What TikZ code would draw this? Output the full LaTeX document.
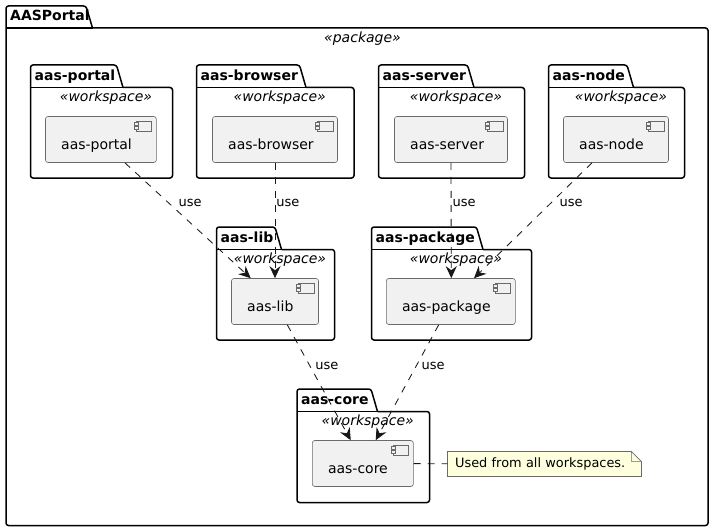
\documentclass[tikz,border=0pt]{standalone}
\usepackage{fontspec}
\setmainfont{DejaVu Sans}
\usetikzlibrary{arrows.meta}

\definecolor{compfill}{HTML}{F1F1F1}
\definecolor{notefill}{HTML}{FEFFDD}
\definecolor{inkline}{HTML}{181818}
\definecolor{thinline}{HTML}{6A6A6A}

\tikzset{
    pkgline/.style={draw=black, line width=1.5pt, rounded corners=2.5pt},
    pkgtitle/.style={inner sep=0pt, anchor=base west, font=\fontsize{14}{16}\selectfont\bfseries},
    pkgtype/.style={inner sep=0pt, anchor=base, font=\fontsize{14}{16}\selectfont\itshape},
    comp/.style={draw=thinline, fill=compfill, line width=0.6pt, rounded corners=2.5pt, minimum height=46pt, inner sep=0pt},
    comptext/.style={inner sep=0pt, anchor=base west, font=\fontsize{14}{16}\selectfont},
    icon/.style={draw=thinline, fill=compfill, line width=0.6pt},
    usearrow/.style={draw=inkline, line width=0.85pt, dash pattern=on 7pt off 7pt, -{Stealth[length=12pt, width=11pt, inset=4pt]}},
    uselabel/.style={inner sep=0pt, anchor=base west, font=\fontsize{13}{15}\selectfont, text=black},
    notebox/.style={fill=notefill, draw=thinline, line width=0.6pt, inner ysep=0pt, inner xsep=7.5pt, text width=178.4pt, minimum height=24.6pt, align=left, font=\fontsize{12.9}{15}\selectfont},
    notelink/.style={draw=inkline, line width=0.85pt, dash pattern=on 7pt off 7pt},
}

\begin{document}
\begin{tikzpicture}[x=1pt, y=-1pt]
    \useasboundingbox (0, 0) rectangle (714, 532);

    \def\tabh{22.5};
    \def\tabs{6.5};

% outer package

    \draw[pkgline] (92.5, 28) -- (708, 28) -- (708, 525.5) -- (6, 525.5) -- (6, 6) -- (86, 6) -- (92.5, 28);
    \draw[pkgline] (6, 28) -- (92.5, 28);
    \node[pkgtitle] (aasportal) at (10, 20.5) {AASPortal};
    \node[pkgtype] (aasportal-type) at (362.5, 43) {«package»};

% workspaces

    \foreach \nm/\xl/\xr/\yt/\yb/\tabx/\xc/\xd in {
        aas-portal/30.5/172.5/65/178/123/45.5/156.3,
        aas-browser/196.5/354/65/178/306/212.5/337.5,
        aas-server/378.5/524.5/65/178/474/394.5/507.5,
        aas-node/548.5/684.5/65/178/633.5/563.5/668.5,
        aas-lib/216.5/334.5/227/340/281.5/231.5/318.5,
        aas-package/371.5/531.5/227/340/483/386.3/515.3,
        aas-core/297/429.5/389/502.5/377.5/312.3/413.3%
    }{
        \draw[pkgline] (\tabx, \yt + \tabh) -- (\xr, \yt + \tabh) -- (\xr, \yb) -- (\xl, \yb) -- (\xl, \yt) -- (\tabx - \tabs, \yt) -- (\tabx, \yt + \tabh);
        \draw[pkgline] (\xl, \yt + \tabh) -- (\tabx, \yt + \tabh);
        \node[pkgtitle] (\nm-title) at (\xl + 4, \yt + 15.5) {\nm};
        \node[pkgtype] (\nm-type) at ({(\xl + \xr) / 2 + 4.5}, \yt + 36.5) {«workspace»};

        \node[comp, minimum width=\xd - \xc] (\nm) at ({(\xc + \xd) / 2}, \yt + 74.5) {};
        \node[comptext] (\nm-text) at (\xc + 15.5, \yt + 84) {\nm};

        \filldraw[icon] (\xd - 20, \yt + 56) rectangle (\xd - 4.7, \yt + 66);
        \filldraw[icon] (\xd - 22.3, \yt + 57.7) rectangle (\xd - 18, \yt + 60);
        \filldraw[icon] (\xd - 22.3, \yt + 61.7) rectangle (\xd - 18, \yt + 64);
    }

% dependencies

    \draw[usearrow] ([xshift=24pt]aas-portal.south) -- ([xshift=-24.3pt]aas-lib.north) node[uselabel, pos=0.38, xshift=5.5pt] (use-portal) {use};
    \draw[usearrow] (aas-browser.south) -- (aas-lib.north) node[uselabel, pos=0.38, xshift=1pt] (use-browser) {use};
    \draw[usearrow] (aas-server.south) -- ([xshift=0.5pt]aas-package.north) node[uselabel, pos=0.38, xshift=1pt] (use-server) {use};
    \draw[usearrow] ([xshift=-24pt]aas-node.south) -- ([xshift=23.2pt]aas-package.north) node[uselabel, pos=0.38, xshift=12pt] (use-node) {use};
    \draw[usearrow] ([xshift=12.3pt]aas-lib.south) -- ([xshift=-12.1pt]aas-core.north) node[uselabel, pos=0.39, xshift=3pt] (use-lib) {use};
    \draw[usearrow] ([xshift=-12.1pt]aas-package.south) -- ([xshift=12.9pt]aas-core.north) node[uselabel, pos=0.39, xshift=7pt] (use-package) {use};

% note

    \node[notebox, anchor=west] (note) at (447.3, 464) {Used from all workspaces.};
    \fill[white] ([xshift=-10pt]note.north east) -- (note.north east) -- ([yshift=-10pt]note.north east) -- cycle;
    \draw[draw=white, line width=1pt] ([xshift=-10pt]note.north east) -- (note.north east) -- ([yshift=-10pt]note.north east);
    \draw[draw=thinline, line width=0.6pt] ([xshift=-10pt]note.north east) -- ([yshift=-10pt]note.north east) -- ([xshift=-10pt, yshift=-10pt]note.north east) -- cycle;
    \draw[notelink] (aas-core) -- (note);

\end{tikzpicture}
\end{document}
